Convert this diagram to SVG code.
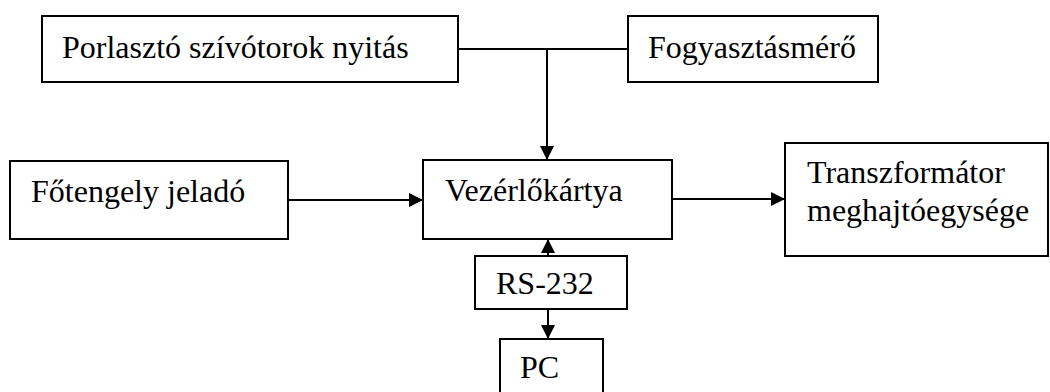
<svg xmlns="http://www.w3.org/2000/svg" width="1050" height="392" viewBox="0 0 1050 392">
  <style>
    .box { fill: #ffffff; stroke: #000000; stroke-width: 2; }
    .lbl { font-size: 32px; fill: #000000; }
    .wire { fill: none; stroke: #000000; stroke-width: 2; }
  </style>
  <defs>
    <marker id="arrow" viewBox="0 0 14 14" refX="14" refY="7" markerWidth="14" markerHeight="14" markerUnits="userSpaceOnUse" orient="auto">
      <path d="M0,0 L14,7 L0,14 Z" fill="#000000"/>
    </marker>
  </defs>
  <rect width="1050" height="392" fill="#ffffff"/>

  <!-- connectors -->
  <g id="connectors">
    <path class="wire" d="M458,49 L628,49"/>
    <path class="wire" d="M547,49 L547,160" marker-end="url(#arrow)"/>
    <path class="wire" d="M288,200 L423,200" marker-end="url(#arrow)"/>
    <path class="wire" d="M672,199 L785,199" marker-end="url(#arrow)"/>
    <path class="wire" d="M548,256 L548,239" marker-end="url(#arrow)"/>
    <path class="wire" d="M548,309 L548,339" marker-end="url(#arrow)"/>
  </g>

  <g font-family="'Liberation Serif', 'DejaVu Serif', serif">
    <g id="porlaszto">
      <rect class="box" x="42" y="16" width="416" height="66"/>
      <text class="lbl" x="62" y="58">Porlasztó szívótorok nyitás</text>
    </g>

    <g id="fogyasztasmero">
      <rect class="box" x="628" y="16" width="250" height="66"/>
      <text class="lbl" x="648" y="58">Fogyasztásmérő</text>
    </g>

    <g id="fotengely">
      <rect class="box" x="10" y="161" width="278" height="78"/>
      <text class="lbl" x="31" y="202">Főtengely jeladó</text>
    </g>

    <g id="vezerlokartya">
      <rect class="box" x="423" y="160" width="249" height="79"/>
      <text class="lbl" x="445" y="201">Vezérlőkártya</text>
    </g>

    <g id="transzformator">
      <rect class="box" x="785" y="143" width="263" height="113"/>
      <text class="lbl" x="807" y="183">Transzformátor</text>
      <text class="lbl" x="807" y="221">meghajtóegysége</text>
    </g>

    <g id="rs232">
      <rect class="box" x="475" y="256" width="152" height="53"/>
      <text class="lbl" x="496" y="294">RS-232</text>
    </g>

    <g id="pc">
      <rect class="box" x="500" y="339" width="103" height="60"/>
      <text class="lbl" x="520" y="378">PC</text>
    </g>
  </g>
</svg>
